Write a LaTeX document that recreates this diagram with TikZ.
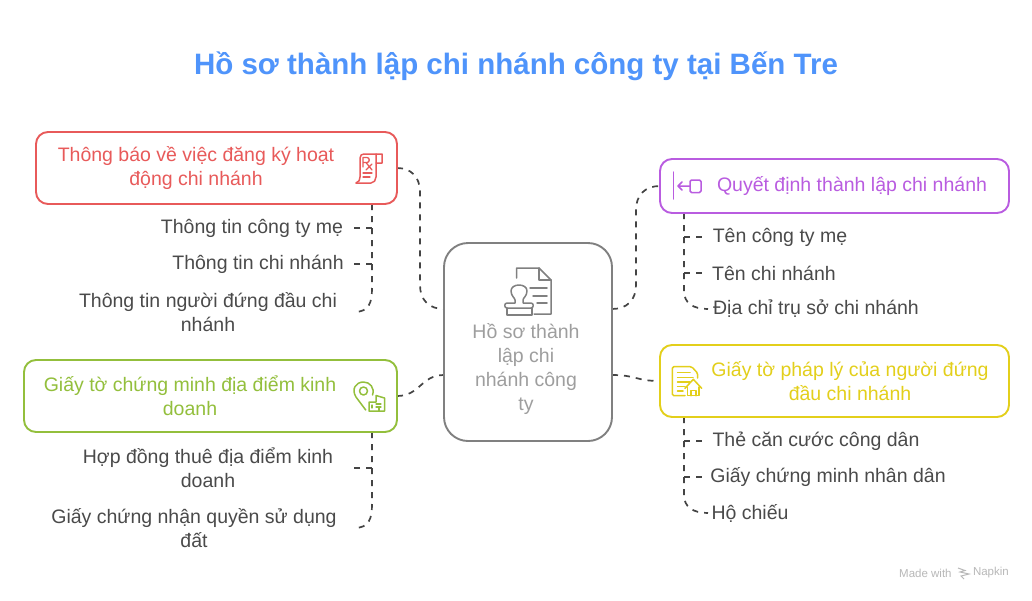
\documentclass[tikz,border=0pt]{standalone}
\usepackage{fontspec}
\setmainfont{Liberation Sans}
\usetikzlibrary{calc}
\definecolor{cred}{HTML}{E85A5A}
\definecolor{cpur}{HTML}{B95CE0}
\definecolor{cgrn}{HTML}{93BF3C}
\definecolor{cyel}{HTML}{E3CF1B}
\definecolor{chub}{HTML}{808080}
\definecolor{ctxt}{HTML}{4A4A4A}
\definecolor{cdash}{HTML}{444444}
\definecolor{ctitle}{HTML}{4F94FB}
\tikzset{
 x=1pt,y=-1pt,
 box/.style={draw=#1,text=#1,line width=1.9pt,rounded corners=12pt,fill=white,align=center,inner sep=0pt,font=\fontsize{19.5}{24}\selectfont},
 item/.style={text=ctxt,align=center,inner sep=0pt,font=\fontsize{19.5}{24}\selectfont},
 link/.style={draw=cdash,line width=1.7pt,dash pattern=on 6pt off 6pt},
 ico/.style={draw=#1,line width=1.5pt,line cap=round,line join=round,fill=none}
}
\begin{document}
\begin{tikzpicture}
\useasboundingbox (0,0) rectangle (1032,600);
\fill[white] (0,0) rectangle (1032,600);
\node[text=ctitle,inner sep=0pt,font=\fontsize{29.5}{34}\selectfont\bfseries] (title) at (516,66) {Hồ sơ thành lập chi nhánh công ty tại Bến Tre};

% anchors
\coordinate (hubA) at (444,309); \coordinate (hubB) at (612,309);
\coordinate (hubC) at (444,375); \coordinate (hubD) at (612,375);
\coordinate (rT) at (372,204); \coordinate (r1) at (372,228); \coordinate (r2) at (372,264);
\coordinate (gT) at (372,432); \coordinate (g1) at (372,468);
\coordinate (pT) at (684,213); \coordinate (p1) at (684,237); \coordinate (p2) at (684,273);
\coordinate (yT) at (684,417); \coordinate (y1) at (684,441); \coordinate (y2) at (684,477);
\coordinate (re1) at (354,228); \coordinate (re2) at (354,264); \coordinate (re3) at (354,312);
\coordinate (ge1) at (354,468); \coordinate (ge2) at (354,528);
\coordinate (pe1) at (702,237); \coordinate (pe2) at (702,273); \coordinate (pe3) at (708,309);
\coordinate (ye1) at (702,441); \coordinate (ye2) at (702,477); \coordinate (ye3) at (708,513);

% connectors
\coordinate (redE) at (397,168); \coordinate (grnE) at (397,396);
\coordinate (purW) at (660,186); \coordinate (yelW) at (660,381);
\draw[link] (redE) .. controls (411,168) and (420,177) .. (420,192) -- (420,285) .. controls (420,300) and (429,309) .. (hubA);
\draw[link] (hubB) .. controls (627,309) and (636,300) .. (636,285) -- (636,210) .. controls (636,195) and (645,186) .. (purW);
\draw[link] (grnE) .. controls (420,396) and (421,375) .. (hubC);
\draw[link] (hubD) .. controls (636,375) and (636,381) .. (yelW);
\draw[link] (rT) -- (372,288) .. controls (372,303) and (369,312) .. (re3);
\draw[link] (r1) -- (re1); \draw[link] (r2) -- (re2);
\draw[link] (gT) -- (372,504) .. controls (372,519) and (369,528) .. (ge2);
\draw[link] (g1) -- (ge1);
\draw[link] (pT) -- (684,291) .. controls (684,303) and (693,309) .. (pe3);
\draw[link] (p1) -- (pe1); \draw[link] (p2) -- (pe2);
\draw[link] (yT) -- (684,495) .. controls (684,507) and (693,513) .. (ye3);
\draw[link] (y1) -- (ye1); \draw[link] (y2) -- (ye2);

% boxes
\draw[draw=cred,line width=1.9pt,rounded corners=12pt,fill=white] (36,132) rectangle (397,204);
\draw[draw=cgrn,line width=1.9pt,rounded corners=12pt,fill=white] (24,360) rectangle (397,432);
\draw[draw=cpur,line width=1.9pt,rounded corners=12pt,fill=white] (660,159) rectangle (1009,213);
\draw[draw=cyel,line width=1.9pt,rounded corners=12pt,fill=white] (660,345) rectangle (1009,417);
\draw[draw=chub,line width=1.9pt,rounded corners=24pt,fill=white] (444,243) rectangle (612,441);

% box texts
\node[item,text=cred] (redT) at (196,168) {Thông báo về việc đăng ký hoạt\\động chi nhánh};
\node[item,text=cgrn] (grnT) at (190,396) {Giấy tờ chứng minh địa điểm kinh\\doanh};
\node[item,text=cpur] (purT) at (852,186) {Quyết định thành lập chi nhánh};
\node[item,text=cyel] (yelT) at (850,381) {Giấy tờ pháp lý của người đứng\\đầu chi nhánh};
\node[item,text=black!38] (hubT) at (526,369) {Hồ sơ thành\\lập chi\\nhánh công\\ty};

% items
\node[item] (a1) at (252,228) {Thông tin công ty mẹ};
\node[item] (a2) at (258,264) {Thông tin chi nhánh};
\node[item] (a3) at (208,312) {Thông tin người đứng đầu chi\\nhánh};
\node[item] (b1) at (208,468) {Hợp đồng thuê địa điểm kinh\\doanh};
\node[item] (b2) at (194,528) {Giấy chứng nhận quyền sử dụng\\đất};
\node[item] (c1) at (780,237) {Tên công ty mẹ};
\node[item] (c2) at (774,273) {Tên chi nhánh};
\node[item] (c3) at (816,309) {Địa chỉ trụ sở chi nhánh};
\node[item] (d1) at (816,441) {Thẻ căn cước công dân};
\node[item] (d2) at (828,477) {Giấy chứng minh nhân dân};
\node[item] (d3) at (750,513) {Hộ chiếu};

% Rx icon
\draw[ico=cred] (356,183) .. controls (359,182) and (360,180) .. (360,177) -- (360,158) .. controls (360,155) and (362,154) .. (364,154) -- (382,154) -- (382,163) -- (376,163);
\draw[ico=cred] (376,154) -- (376,177) .. controls (376,180) and (374,183) .. (371,183) -- (356,183);
\draw[ico=cred,line width=1.3pt] (363,167) -- (363,157.5) -- (367,157.5) .. controls (370,157.5) and (370,162.5) .. (367,162.5) -- (363,162.5) (366,162.5) -- (372,170) (372,164) -- (366,170);
\draw[ico=cred,line width=1.2pt] (363,173) -- (372,173) (363,177) -- (370,177);

% stamp icon
\draw[ico=chub] (516.7,278) -- (516.7,268) -- (539,268) -- (551,280) -- (551,314) -- (534,314);
\draw[ico=chub] (539,268) -- (539,280) -- (551,280);
\draw[ico=chub] (530,288) -- (547,288) (533,296) -- (547,296) (537,303) -- (547,303);
\draw[ico=chub] (515,303) -- (515,300) .. controls (515,298) and (511,296) .. (511,291) .. controls (511,283) and (527,283) .. (527,291) .. controls (527,296) and (523,298) .. (523,300) -- (523,303) -- (531,303) .. controls (534,303) and (534,308) .. (531,308) -- (507,308) .. controls (504,308) and (504,303) .. (507,303) -- (515,303);
\draw[ico=chub] (507,308) -- (507,315) -- (532,315) -- (532,308);

% location icon
\draw[ico=cgrn] (365.7,410) -- (356,397) .. controls (351,389) and (356,382) .. (363.5,382) .. controls (370,382) and (375,388) .. (372.5,395);
\draw[ico=cgrn] (363.5,391) circle (4pt);
\draw[ico=cgrn] (369,411) -- (369,402) -- (376,402) -- (376,395.5) -- (384.5,398) -- (384.5,411) -- cycle;
\draw[ico=cgrn,line width=1.2pt] (372,405) -- (372,408) (376,404) -- (381,404) (376,407) -- (381,407) (379,411) -- (379,408);

% purple icon
\draw[ico=cpur] (673.5,172) -- (673.5,199);
\draw[ico=cpur] (690,186) -- (678,186) (682,182) -- (678,186) -- (682,190);
\draw[ico=cpur,rounded corners=1.5pt] (690,180) rectangle (701,192.5);

% doc-house icon
\draw[ico=cyel,rounded corners=1.5pt] (685,395.7) -- (672.3,395.7) -- (672.3,366.7) -- (691.7,366.7) -- (697.7,373.3) -- (697.7,378);
\draw[ico=cyel] (677.5,372.5) -- (690,372.5) (677.5,377.5) -- (693,377.5) (677.5,382) -- (690,382) (677.5,386.5) -- (685,386.5) (677.5,391) -- (683,391);
\draw[ico=cyel] (685,388.3) -- (693.3,379.3) -- (701.7,388.3);
\draw[ico=cyel] (687.5,387) -- (687.5,395.7) -- (699,395.7) -- (699,387);
\draw[ico=cyel] (691,395.7) -- (691,390.5) -- (696,390.5) -- (696,395.7);

% footer
\node[text=black!28,anchor=west,inner sep=0pt,font=\fontsize{11.5}{14}\selectfont] (made) at (899,573) {Made with};
\node[text=black!28,anchor=east,inner sep=0pt,font=\fontsize{11.5}{14}\selectfont] (nap) at (1009,573) {Napkin};
\draw[black!28,line width=1pt] (958,568) -- (965,570.5) -- (960,572) -- (969,574) -- (961,576) -- (964,579);
\end{tikzpicture}
\end{document}
